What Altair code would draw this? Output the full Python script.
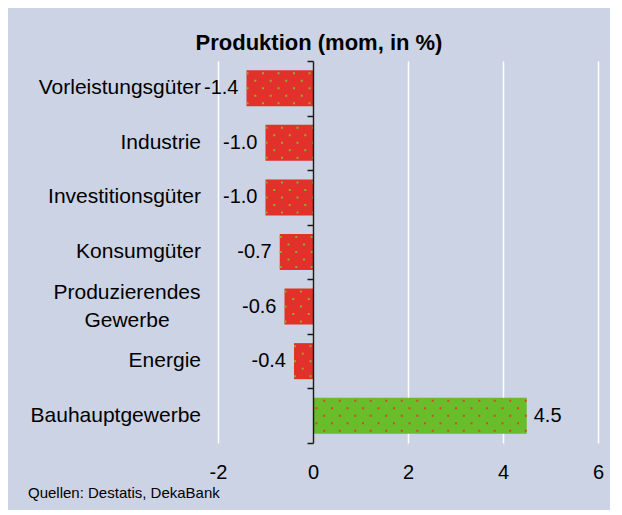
import altair as alt
import pandas as pd

categories = ["Vorleistungsgüter", "Industrie", "Investitionsgüter", "Konsumgüter",
              "Produzierendes Gewerbe", "Energie", "Bauhauptgewerbe"]
display_labels = ["Vorleistungsgüter", "Industrie", "Investitionsgüter", "Konsumgüter",
                  "Produzierendes\nGewerbe", "Energie", "Bauhauptgewerbe"]
values = [-1.4, -1.0, -1.0, -0.7, -0.6, -0.4, 4.5]
x_ticks = [-2, 0, 2, 4, 6]
title_text = "Produktion (mom, in %)"
source_text = "Quellen: Destatis, DekaBank"

df = pd.DataFrame({
    "cat": categories,
    "label": display_labels,
    "value": values,
    "vtext": [f"{v:.1f}" for v in values],
})

BG = "#ccd3e5"
RED = "#e2302a"
GREEN = "#69bd2b"
DOT_ON_RED = "#8fae2c"
DOT_ON_GREEN = "#d8482a"
FONT = "Liberation Sans"

W, H = 380, 382

yscale = alt.Scale(domain=categories, paddingInner=0, paddingOuter=0)
xscale = alt.Scale(domain=[-2, 6], nice=False, zero=False)

base = alt.Chart(df)

Y = alt.Y("cat:N", sort=categories, scale=yscale, title=None)
Xq = alt.X("value:Q", scale=xscale, title=None)

bars = base.mark_bar(height=alt.RelativeBandSize(0.66)).encode(
    x=alt.X("value:Q", scale=xscale, title=None,
            axis=alt.Axis(values=x_ticks, grid=True, gridColor="white", gridWidth=1.5,
                          domain=False, ticks=False, tickSize=0, labelFlush=False,
                          labelFont=FONT, labelFontSize=20, labelColor="black",
                          labelPadding=19, labelExpr="datum.value + ''")),
    x2=alt.datum(0),
    y=alt.Y("cat:N", sort=categories, scale=yscale, title=None,
            axis=alt.Axis(labels=False, domain=True, domainColor="#1a1a1a", domainWidth=1.5,
                          ticks=True, tickBand="extent", tickSize=6, tickColor="#1a1a1a",
                          tickWidth=1.5, grid=False, offset=-W / 4, zindex=1)),
    color=alt.condition("datum.value < 0", alt.value(RED), alt.value(GREEN)),
)

dot_layers = []
for i, off in enumerate([-15, -7.5, 0, 7.5, 15]):
    dot_layers.append(
        base.mark_rule(yOffset=off, strokeDash=[2, 13.5], strokeWidth=2,
                       strokeDashOffset=(0 if i % 2 == 0 else 7.75), strokeCap="butt").encode(
            x=Xq, x2=alt.datum(0), y=Y,
            color=alt.condition("datum.value < 0", alt.value(DOT_ON_RED), alt.value(DOT_ON_GREEN)),
        )
    )

neg_text = base.transform_filter("datum.value < 0").mark_text(
    align="right", baseline="middle", dx=-8, font=FONT, fontSize=20, color="black"
).encode(x=Xq, y=Y, text="vtext:N")

pos_text = base.transform_filter("datum.value >= 0").mark_text(
    align="left", baseline="middle", dx=7, font=FONT, fontSize=20, color="black"
).encode(x=Xq, y=Y, text="vtext:N")

cat_text = base.transform_filter("datum.cat != 'Produzierendes Gewerbe'").mark_text(
    align="right", baseline="middle", font=FONT, fontSize=21, color="black"
).encode(x=alt.value(-17), y=Y, text="label:N")

cat_text_wrap = base.transform_filter("datum.cat == 'Produzierendes Gewerbe'").mark_text(
    align="center", baseline="middle", font=FONT, fontSize=21, color="black",
    lineBreak="\n", lineHeight=28, dy=-14
).encode(x=alt.value(-91), y=Y, text="label:N")

source = alt.Chart(pd.DataFrame({"t": [source_text]})).mark_text(
    align="left", baseline="middle", font=FONT, fontSize=15, color="black"
).encode(x=alt.value(-190), y=alt.value(432), text="t:N")

chart = alt.layer(bars, *dot_layers, neg_text, pos_text, cat_text, cat_text_wrap, source).properties(
    width=W, height=H,
    title=alt.TitleParams(title_text, anchor="middle", frame="group", dx=-89, offset=5,
                          font=FONT, fontSize=22, fontWeight="bold", color="black"),
    background=BG,
    padding={"left": 210, "right": 12, "top": 53, "bottom": 67},
    autosize=alt.AutoSizeParams(type="none"),
).configure_view(stroke=None)

chart.save("out.html", embed_options={"renderer": "svg", "actions": False})
